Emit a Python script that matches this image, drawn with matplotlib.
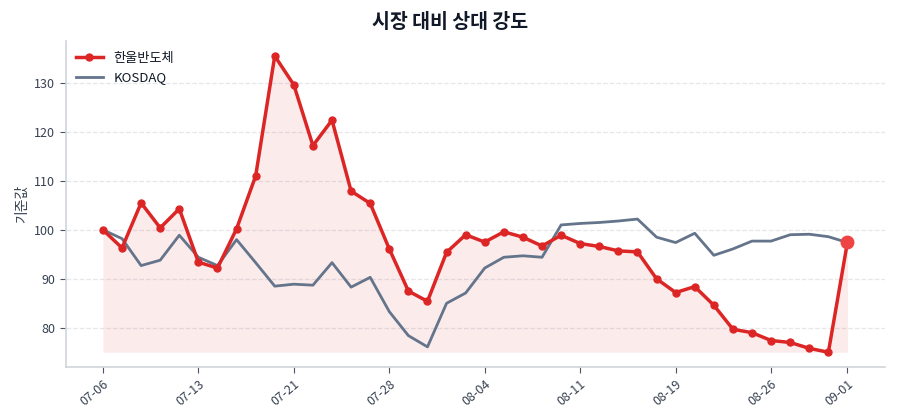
import matplotlib
matplotlib.use("Agg")
import matplotlib.pyplot as plt

plt.rcParams['font.family'] = ['Noto Sans CJK KR', 'DejaVu Sans']

dates = ["07-06", "07-07", "07-08", "07-09", "07-10",
         "07-13", "07-14", "07-15", "07-16", "07-20",
         "07-21", "07-22", "07-23", "07-24", "07-27",
         "07-28", "07-29", "07-30", "07-31", "08-01",
         "08-04", "08-05", "08-06", "08-07", "08-08",
         "08-11", "08-12", "08-13", "08-14", "08-18",
         "08-19", "08-20", "08-21", "08-22", "08-25",
         "08-26", "08-27", "08-28", "08-29", "09-01"]
stock = [100.0, 96.3, 105.5, 100.4, 104.3, 93.4, 92.2, 100.2, 111.0, 135.5,
         129.6, 117.2, 122.4, 107.9, 105.4, 96.1, 87.5, 85.4, 95.4, 99.0,
         97.5, 99.6, 98.5, 96.7, 98.9, 97.2, 96.6, 95.7, 95.5, 90.0,
         87.2, 88.4, 84.6, 79.7, 79.0, 77.4, 77.0, 75.8, 75.0, 97.5]
kosdaq = [100.0, 98.2, 92.7, 93.8, 98.9, 94.4, 92.7, 98.0, 93.3, 88.5,
          88.9, 88.7, 93.3, 88.3, 90.3, 83.3, 78.4, 76.1, 85.0, 87.1,
          92.2, 94.4, 94.7, 94.4, 101.0, 101.3, 101.5, 101.8, 102.2, 98.5,
          97.4, 99.3, 94.8, 96.1, 97.7, 97.7, 99.0, 99.1, 98.6, 97.4]
tick_idx = [0, 5, 10, 15, 20, 25, 30, 35, 39]

RED = '#dc2626'
GRAY = '#64748b'

fig = plt.figure(figsize=(9, 4.2), dpi=100)
ax = fig.add_axes([0.073, 0.126, 0.910, 0.776])

x = list(range(len(dates)))
base = min(stock)
ax.fill_between(x, stock, base, color=RED, alpha=0.09, linewidth=0, zorder=1)
ax.plot(x, stock, color=RED, lw=2.5, marker='o', ms=5, label='한울반도체', zorder=3)
ax.plot(x, kosdaq, color=GRAY, lw=2.0, label='KOSDAQ', zorder=2)
ax.plot([x[-1]], [stock[-1]], 'o', color='#ef4444', ms=9, zorder=4)

ax.set_xticks(tick_idx)
ax.set_xticklabels([dates[i] for i in tick_idx], rotation=40, ha='right',
                   rotation_mode='anchor')
ax.set_yticks([80, 90, 100, 110, 120, 130])
ax.tick_params(axis='both', colors='#4b5563', labelsize=9, length=4)
ax.tick_params(axis='both', labelcolor='#374151')

ax.grid(axis='y', linestyle='--', color='#e5e7eb', linewidth=0.9)
ax.set_axisbelow(True)
for s in ['top', 'right']:
    ax.spines[s].set_visible(False)
for s in ['left', 'bottom']:
    ax.spines[s].set_color('#d1d5db')
    ax.spines[s].set_linewidth(1.2)

ax.set_ylabel('기준값', fontsize=10, color='#374151')
fig.suptitle('시장 대비 상대 강도', fontsize=14, fontweight='bold',
             color='#111827', y=0.97)

leg = ax.legend(loc='upper left', frameon=False, fontsize=9.5,
                handlelength=2.0, handletextpad=0.8, borderaxespad=0.4,
                labelspacing=0.5)
for t in leg.get_texts():
    t.set_color('#111827')

fig.savefig('out.png', dpi=100)
